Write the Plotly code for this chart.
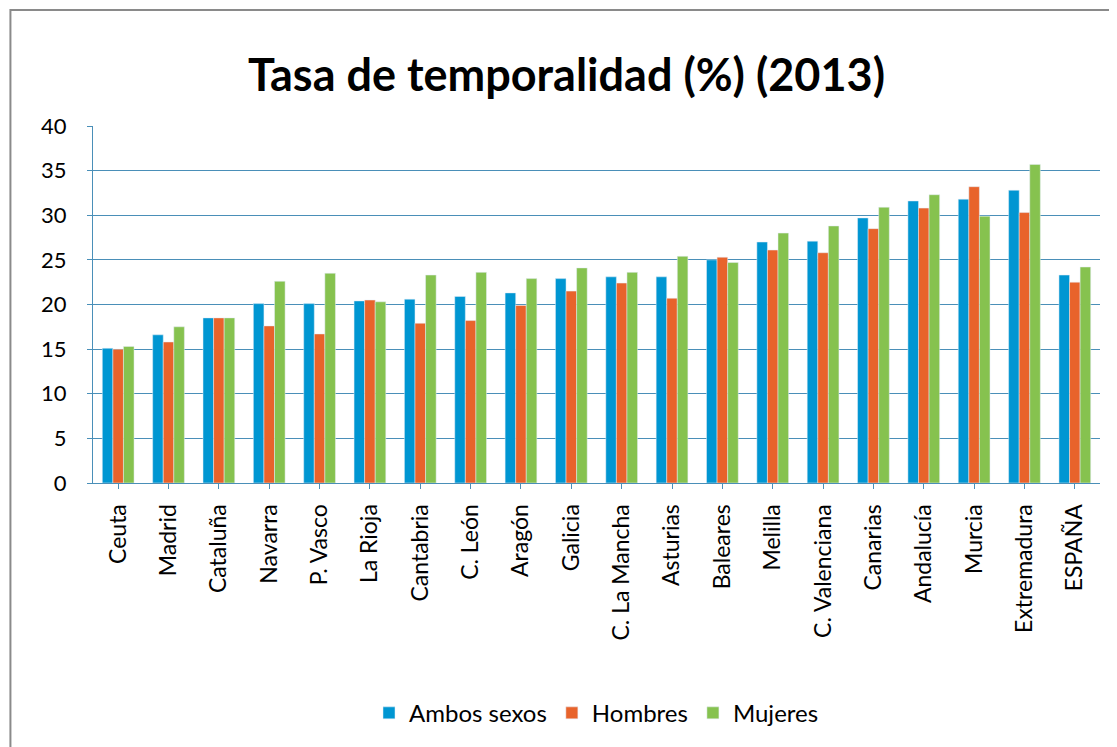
import plotly.graph_objects as go

regiones = ['Ceuta', 'Madrid', 'Cataluña', 'Navarra', 'P. Vasco', 'La Rioja', 'Cantabria',
            'C. León', 'Aragón', 'Galicia', 'C. La Mancha', 'Asturias', 'Baleares', 'Melilla',
            'C. Valenciana', 'Canarias', 'Andalucía', 'Murcia', 'Extremadura', 'ESPAÑA']

ambos = [15.1, 16.6, 18.5, 20.1, 20.1, 20.4, 20.6, 20.9, 21.3, 22.9, 23.1, 23.1, 25.0, 27.0,
         27.1, 29.7, 31.6, 31.8, 32.8, 23.3]
hombres = [15.0, 15.8, 18.5, 17.6, 16.7, 20.5, 17.9, 18.2, 19.9, 21.5, 22.4, 20.7, 25.3, 26.1,
           25.8, 28.5, 30.8, 33.2, 30.3, 22.5]
mujeres = [15.3, 17.5, 18.5, 22.6, 23.5, 20.3, 23.3, 23.6, 22.9, 24.1, 23.6, 25.4, 24.7, 28.0,
           28.8, 30.9, 32.3, 29.9, 35.7, 24.2]

y_ticks = [0, 5, 10, 15, 20, 25, 30, 35, 40]

font_main = "Lato, 'Open Sans', sans-serif"

fig = go.Figure()
fig.add_trace(go.Bar(x=regiones, y=ambos, name='Ambos sexos', marker_color='#0096d2'))
fig.add_trace(go.Bar(x=regiones, y=hombres, name='Hombres', marker_color='#e8632b'))
fig.add_trace(go.Bar(x=regiones, y=mujeres, name='Mujeres', marker_color='#86c24f'))

fig.update_layout(
    width=1117, height=747,
    paper_bgcolor='white', plot_bgcolor='white',
    margin=dict(l=85, r=25, t=118, b=272),
    font=dict(family=font_main, color='black'),
    title=dict(text='<b>Tasa de temporalidad (%) (2013)</b>', x=0.5, xanchor='center',
               y=0.91, yanchor='middle', font=dict(size=45, family=font_main)),
    barmode='group', bargap=0.37, bargroupgap=0,
    showlegend=True,
    legend=dict(orientation='h', x=0.5, xanchor='center', y=-0.645, yanchor='middle',
                font=dict(size=24), itemwidth=30, traceorder='normal'),
    shapes=[dict(type='rect', xref='paper', yref='paper', x0=-0.082, x1=1.04, y0=-0.8, y1=1.325,
                 line=dict(color='#8a8a8a', width=2), fillcolor='rgba(0,0,0,0)', layer='below')],
)

fig.update_yaxes(range=[0, 40], tickvals=y_ticks, showgrid=True, gridcolor='#4a8fb8', gridwidth=1,
                 showline=True, linecolor='#4a8fb8', ticks='outside', ticklen=5,
                 tickcolor='#4a8fb8', tickfont=dict(size=22), ticklabelstandoff=16,
                 zeroline=False)
fig.update_xaxes(tickangle=-90, tickfont=dict(size=23), showline=True, linecolor='#4a8fb8',
                 ticks='outside', ticklen=5, tickcolor='#4a8fb8', ticklabelstandoff=6)

fig.write_html("out.html")
